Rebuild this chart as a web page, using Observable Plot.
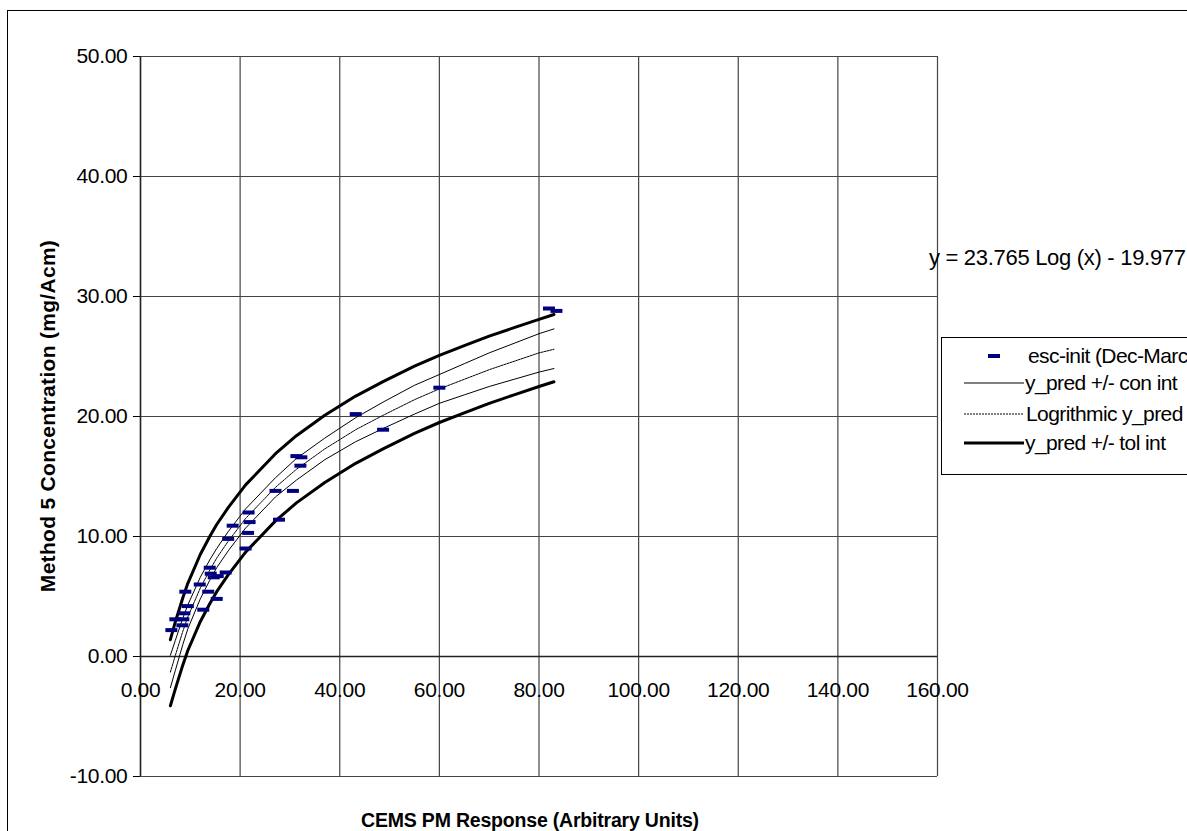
<!DOCTYPE html>
<html>
<head>
<meta charset="utf-8">
<script src="https://cdn.jsdelivr.net/npm/d3@7"></script>
<script src="https://cdn.jsdelivr.net/npm/@observablehq/plot@0.6"></script>
<style>
  html, body { margin: 0; padding: 0; background: #fff; overflow: hidden; width: 1187px; height: 831px; }
  #wrap { position: relative; width: 1187px; height: 831px; overflow: hidden; font-family: "Liberation Sans", Arial, sans-serif; }
  #border { position: absolute; left: 7px; top: 10px; width: 1400px; height: 1000px; border: 1px solid #000; pointer-events: none; }
  #chart { position: absolute; left: 0; top: 0; }
  .ttl { position: absolute; white-space: nowrap; color: #000; }
  #ylab { left: 48px; top: 416px; transform: translate(-50%, -50%) rotate(-90deg); font-weight: bold; font-size: 21px; letter-spacing: 0.3px; }
  #xlab { left: 530px; top: 820px; transform: translate(-50%, -50%); font-weight: bold; font-size: 19.5px; letter-spacing: -0.2px; }
  #eq { left: 929px; top: 258px; transform: translateY(-50%); font-size: 22px; letter-spacing: -0.3px; }
  #legend { position: absolute; left: 941px; top: 337px; width: 300px; height: 136px; border: 1px solid #000; background: #fff; }
</style>
</head>
<body>
<div id="wrap">
  <div id="chart"></div>
  <div id="border"></div>
  <div class="ttl" id="ylab">Method 5 Concentration (mg/Acm)</div>
  <div class="ttl" id="xlab">CEMS PM Response (Arbitrary Units)</div>
  <div class="ttl" id="eq">y = 23.765 Log (x) - 19.977</div>
  <div id="legend"></div>
</div>
<script>
// ---- Data ----
const xTicks = [0, 20, 40, 60, 80, 100, 120, 140, 160];
const yTicks = [-10, 0, 10, 20, 30, 40, 50];

// esc-init (Dec-March) observations
const obsX = [6.2, 7.0, 8.6, 8.4, 8.8, 9.5, 9.0, 11.9, 12.6, 13.6, 13.9, 14.1, 14.7, 15.5, 17.1, 15.3,
              17.6, 18.5, 21.1, 21.6, 21.9, 21.7, 27.1, 27.8, 30.6, 31.3, 32.3, 32.1, 43.2, 48.7, 60.0, 82.0, 83.5];
const obsY = [2.2, 3.1, 3.1, 2.6, 3.6, 4.2, 5.4, 6.0, 3.9, 5.4, 7.4, 6.9, 6.6, 6.7, 7.0, 4.8,
              9.8, 10.9, 9.0, 10.3, 11.2, 12.0, 13.8, 11.4, 13.8, 16.7, 16.6, 15.9, 20.2, 18.9, 22.4, 29.0, 28.8];

// Fitted curve and intervals
const curveX   = [6.0, 7.0, 8.5, 9.5, 12, 13.9, 15.3, 17.6, 21.1, 27.1, 31.3, 37, 43.2, 48.7, 55, 60, 65, 70, 75, 80, 83];
const predY    = [-1.3, 0.1, 2.1, 3.3, 5.7, 7.2, 8.2, 9.6, 11.5, 14.1, 15.6, 17.3, 18.9, 20.1, 21.4, 22.3, 23.1, 23.9, 24.6, 25.3, 25.6];
const conHighY = [0.1, 1.35, 3.2, 4.3, 6.6, 8.05, 9.0, 10.4, 12.3, 14.9, 16.5, 18.2, 19.9, 21.2, 22.6, 23.5, 24.4, 25.3, 26.1, 26.9, 27.3];
const conLowY  = [-2.6, -1.15, 1.0, 2.3, 4.8, 6.35, 7.4, 8.8, 10.7, 13.3, 14.7, 16.4, 17.9, 19.0, 20.2, 21.1, 21.8, 22.5, 23.1, 23.7, 24.0];
const tolHighY = [1.4, 2.9, 4.9, 6.1, 8.5, 10.0, 11.0, 12.4, 14.3, 16.9, 18.4, 20.1, 21.7, 22.9, 24.2, 25.1, 25.9, 26.7, 27.4, 28.1, 28.5];
const tolLowY  = [-4.1, -2.7, -0.7, 0.5, 2.9, 4.4, 5.4, 6.8, 8.7, 11.3, 12.8, 14.5, 16.1, 17.3, 18.6, 19.5, 20.3, 21.1, 21.8, 22.5, 22.9];

const legendLabels = ["esc-init (Dec-March)", "y_pred +/- con int", "Logrithmic y_pred", "y_pred +/- tol int"];

// ---- Build tables ----
const obs = obsX.map((x, i) => ({x, y: obsY[i]}));
const curve = (ys) => curveX.map((x, i) => ({x, y: ys[i]}));
const fmt = (d) => d3.format(".2f")(d).replace("\u2212", "-");
const navy = "#000080";
const dashSymbol = {
  draw(ctx) { ctx.moveTo(-6, -2); ctx.lineTo(6, -2); ctx.lineTo(6, 2); ctx.lineTo(-6, 2); ctx.closePath(); }
};

const gridStroke = "#444";
const chart = Plot.plot({
  width: 1187,
  height: 831,
  marginLeft: 140,
  marginRight: 250,
  marginTop: 56,
  marginBottom: 55,
  style: {background: "transparent", fontFamily: "'Liberation Sans', Arial, sans-serif", fontSize: "21px", letterSpacing: "-0.3px", color: "#000"},
  x: {domain: [0, 160], axis: null},
  y: {domain: [-10, 50], ticks: yTicks, tickFormat: fmt, tickSize: 7, tickPadding: 6, label: null},
  marks: [
    Plot.ruleX(xTicks, {stroke: gridStroke, strokeWidth: 1.2}),
    Plot.ruleY(yTicks, {stroke: gridStroke, strokeWidth: 1.2}),
    Plot.ruleX([0], {stroke: "#222", strokeWidth: 1.5}),
    Plot.ruleY([0], {x1: 0, x2: 160, stroke: "#222", strokeWidth: 1.5}),
    Plot.text(xTicks, {x: d => d, y: () => 0, dy: 34, text: d => fmt(d), fontSize: 21, fill: "#000"}),
    Plot.line(curve(tolHighY), {x: "x", y: "y", stroke: "#000", strokeWidth: 3}),
    Plot.line(curve(tolLowY), {x: "x", y: "y", stroke: "#000", strokeWidth: 3}),
    Plot.line(curve(conHighY), {x: "x", y: "y", stroke: "#000", strokeWidth: 1}),
    Plot.line(curve(conLowY), {x: "x", y: "y", stroke: "#000", strokeWidth: 1}),
    Plot.line(curve(predY), {x: "x", y: "y", stroke: "#000", strokeWidth: 1, strokeDasharray: "2,1"}),
    Plot.dot(obs, {x: "x", y: "y", symbol: dashSymbol, fill: navy, stroke: "none", r: 4})
  ]
});
document.getElementById("chart").appendChild(chart);

// ---- Legend ----
const lg = d3.select("#legend").append("svg").attr("width", 300).attr("height", 136)
  .style("font-family", "'Liberation Sans', Arial, sans-serif").style("font-size", "21px").style("letter-spacing", "-0.6px");
const rows = [
  {y: 18, kind: "dot", tx: 86},
  {y: 45, kind: "con", tx: 83},
  {y: 76, kind: "pred", tx: 84},
  {y: 105, kind: "tol", tx: 83}
];
rows.forEach((r, i) => {
  if (r.kind === "dot") {
    lg.append("rect").attr("x", 46).attr("y", r.y - 2).attr("width", 12).attr("height", 4).attr("fill", navy);
  } else {
    lg.append("line").attr("x1", 22).attr("x2", 82).attr("y1", r.y).attr("y2", r.y)
      .attr("stroke", "#000")
      .attr("stroke-width", r.kind === "tol" ? 3 : 1)
      .attr("stroke-dasharray", r.kind === "pred" ? "2,1" : null);
  }
  lg.append("text").attr("x", r.tx).attr("y", r.y).attr("dy", "0.35em").text(legendLabels[i]);
});
</script>
</body>
</html>
